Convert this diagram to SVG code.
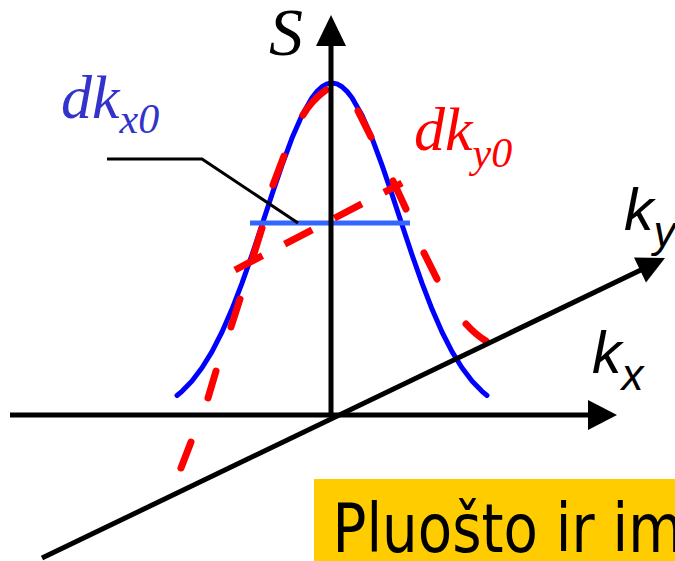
<svg xmlns="http://www.w3.org/2000/svg" width="675" height="561" viewBox="0 0 675 561">
<style>
.ser{font-family:"Liberation Serif","Times New Roman",serif;font-style:italic}
.san{font-family:"Liberation Sans",Arial,sans-serif;font-style:italic}
.ax{stroke:#000;stroke-width:5;fill:none}
</style>
<rect width="675" height="561" fill="#fff"/>
<g id="curves">
<path id="blue-curve" d="M177,395.5 L182,391.3 L192,381 L202,367.8 L212,351.6 L222,332 L232,309.1 L242,283.2 L252,254.8 L262,224.8 L272,194.4 L282,165.1 L292,138.1 L302,115.2 L312,97.7 L317,91.4 L322,86.7 L327,83.9 L332,83 L337,83.9 L342,86.7 L347,91.4 L352,97.7 L362,115.2 L372,138.1 L382,165.1 L392,194.4 L402,224.8 L412,254.8 L422,283.2 L432,309.1 L442,332 L452,351.6 L462,367.8 L472,381 L482,391.3 L487,395.5" fill="none" stroke="#0000FF" stroke-width="5" stroke-linecap="round" stroke-linejoin="round"/>
<path id="red-curve" d="M181,468 L191,442 M208,398 L216,371 M231,327 L240,299 M253,257 L262,228 M273,185 L284,156 M303,115 Q312,100 326,90 M358,111 L371,137 M393,181 L406,209 M424,253 L437,279 M466,324 Q476,335 486,341" fill="none" stroke="#FF0000" stroke-width="7" stroke-linecap="round"/>
<line id="blue-width" x1="250" y1="223" x2="410" y2="223" stroke="#3366FF" stroke-width="5"/>
<line id="red-width" x1="235" y1="270" x2="402" y2="183" stroke="#FF0000" stroke-width="7" stroke-dasharray="31 25"/>
<polyline id="leader" points="107,159 202,159 298,223" fill="none" stroke="#000" stroke-width="3"/>
</g>
<g id="axes">
<line class="ax" x1="331" y1="417" x2="331" y2="42"/>
<polygon points="331,15 316,46 346,46" fill="#000"/>
<line class="ax" x1="10" y1="415" x2="592" y2="415"/>
<polygon points="617,415 588,400 588,430" fill="#000"/>
<line class="ax" x1="42" y1="558" x2="645" y2="268"/>
<polygon points="665,258 634,257.4 646,282.6" fill="#000"/>
</g>
<g id="labels">
<text class="ser" x="269" y="55" font-size="68" fill="#000">S</text>
<text class="ser" x="61" y="118" font-size="62" fill="#3333CC">dk<tspan font-size="42" dy="15">x0</tspan></text>
<text class="ser" x="414" y="150" font-size="62" fill="#FF0000">dk<tspan font-size="42" dy="17">y0</tspan></text>
<text class="san" x="624" y="230" font-size="59" fill="#000">k<tspan font-size="44" dy="17">y</tspan></text>
<text class="san" x="592" y="373" font-size="59" fill="#000">k<tspan font-size="44" dy="17">x</tspan></text>
</g>
<g id="banner">
<rect x="314" y="479" width="361" height="82" fill="#FFCC00"/>
<text transform="translate(332.5,552) scale(0.84,1)" x="0" y="0" font-family="'DejaVu Sans',Verdana,sans-serif" font-size="67" fill="#000">Pluošto ir im</text>
</g>
</svg>
